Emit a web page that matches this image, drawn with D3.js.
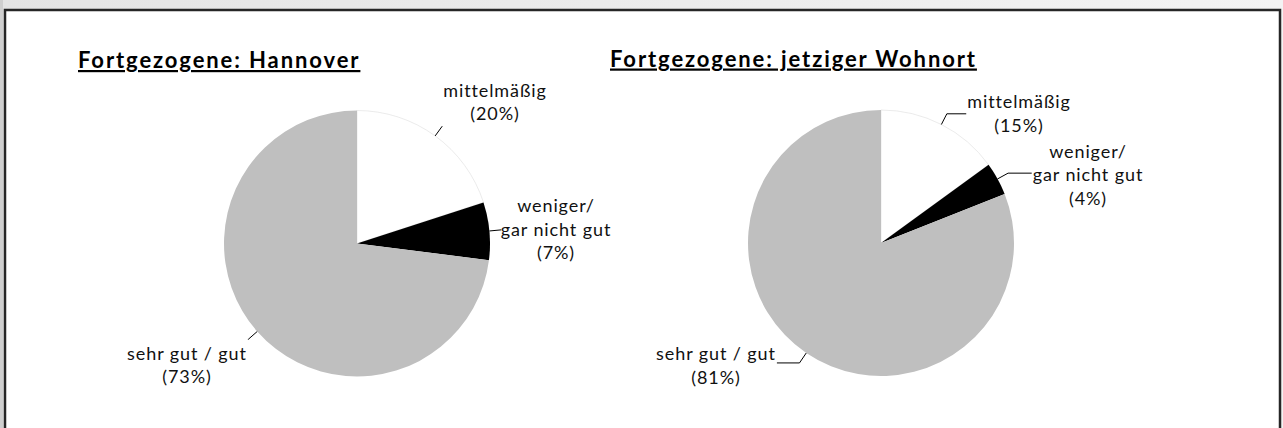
<!DOCTYPE html>
<html>
<head>
<meta charset="utf-8">
<script src="https://cdn.jsdelivr.net/npm/d3@7"></script>
<style>
  body { margin: 0; background: #fff; }
  svg { display: block; font-family: Lato, "Open Sans", sans-serif; }
</style>
</head>
<body>
<svg id="svg" width="1283" height="428"></svg>
<script>
// categories in drawing order (clockwise from 12 o'clock)
const categories = ["mittelmäßig", "weniger/ gar nicht gut", "sehr gut / gut"];
const labelLines = [["mittelmäßig"], ["weniger/", "gar nicht gut"], ["sehr gut / gut"]];
const colours = ["#ffffff", "#000000", "#bfbfbf"];

const titles = ["Fortgezogene: Hannover", "Fortgezogene: jetziger Wohnort"];
const hannoverValues = [20, 7, 73];
const wohnortValues = [15, 4, 81];

const width = 1283, height = 428;
const svg = d3.select("#svg");

// frame: grey gradient band and dark border like the original screenshot
const defs = svg.append("defs");
const grad = defs.append("linearGradient").attr("id", "band");
grad.append("stop").attr("offset", "0%").attr("stop-color", "#e4e4e4");
grad.append("stop").attr("offset", "100%").attr("stop-color", "#f3f3f3");
svg.append("rect").attr("width", width).attr("height", height).attr("fill", "url(#band)");
svg.append("rect").attr("x", 0).attr("y", 0).attr("width", 3).attr("height", height).attr("fill", "#cfcfcf");
svg.append("rect")
    .attr("x", 5).attr("y", 10).attr("width", 1275).attr("height", 430)
    .attr("fill", "#fff").attr("stroke", "#262626").attr("stroke-width", 2.5);

const radius = 133;
const lineH = 23.5;

// layout per chart: pie centre, title position, label centre x and first baseline
const layouts = [
    {
        cx: 357, cy: 243.5, titleX: 78, titleY: 68,
        labels: [{ x: 495, y: 96.5 }, { x: 556, y: 212 }, { x: 187, y: 359.5 }]
    },
    {
        cx: 881, cy: 243, titleX: 610, titleY: 66.5,
        labels: [{ x: 1019, y: 108 }, { x: 1088, y: 157.5 }, { x: 716, y: 360 }]
    }
];

const pie = d3.pie().sort(null).value(d => d);
const arc = d3.arc().innerRadius(0).outerRadius(radius);

function edgePoint(angle, r) {
    return [Math.sin(angle) * r, -Math.cos(angle) * r];
}

function drawPie(values, title, lay) {
    svg.append("text")
        .attr("x", lay.titleX).attr("y", lay.titleY)
        .style("font-size", "22px").style("font-weight", "bold")
        .style("letter-spacing", "1.9px")
        .style("text-decoration", "underline")
        .attr("fill", "#000")
        .text(title);

    const g = svg.append("g").attr("transform", `translate(${lay.cx},${lay.cy})`);
    const arcs = pie(values);

    g.selectAll("path.slice")
        .data(arcs)
        .enter().append("path")
        .attr("class", "slice")
        .attr("d", arc)
        .attr("fill", (d, i) => colours[i])
        .attr("stroke", (d, i) => i === 0 ? "#e6e6e6" : "none")
        .attr("stroke-width", 0.8);

    arcs.forEach((a, i) => {
        const lab = lay.labels[i];
        const lines = labelLines[i].concat(["(" + values[i] + "%)"]);
        const t = svg.append("text")
            .attr("text-anchor", "middle")
            .style("font-size", "18px")
            .style("letter-spacing", "0.9px")
            .attr("fill", "#111");
        lines.forEach((s, k) => {
            t.append("tspan").attr("x", lab.x).attr("y", lab.y + k * lineH).text(s);
        });
        const box = t.node().getBBox();

        // leader line: from slice edge outwards, then across to the label
        const mid = (a.startAngle + a.endAngle) / 2;
        const p0 = edgePoint(mid, radius);
        const p1 = edgePoint(mid, radius + 12);
        const pts = [[lay.cx + p0[0], lay.cy + p0[1]], [lay.cx + p1[0], lay.cy + p1[1]]];
        const rightSide = lab.x > lay.cx;
        const endX = rightSide ? box.x - 1 : box.x + box.width + 1;
        if (rightSide ? endX > pts[1][0] : endX < pts[1][0]) pts.push([endX, pts[1][1]]);
        svg.append("path")
            .attr("d", d3.line()(pts))
            .attr("fill", "none")
            .attr("stroke", "#000")
            .attr("stroke-width", 1);
    });
}

drawPie(hannoverValues, titles[0], layouts[0]);
drawPie(wohnortValues, titles[1], layouts[1]);
</script>
</body>
</html>
